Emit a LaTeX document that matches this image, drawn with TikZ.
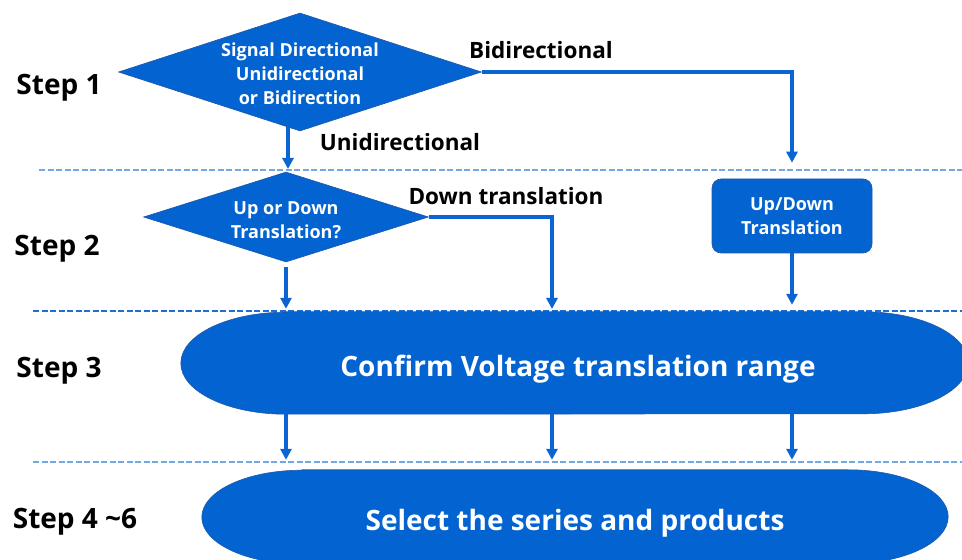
\documentclass[tikz,border=0pt]{standalone}
\usepackage{fontspec}
\setmainfont{Open Sans}
\usepackage{graphicx}
\usetikzlibrary{shapes.geometric,arrows.meta,calc}
\definecolor{fillblue}{HTML}{0364D1}
\definecolor{edgeblue}{HTML}{1F57A8}
\definecolor{arrowblue}{HTML}{0A64D2}
\definecolor{dashlight}{HTML}{74A8E4}
\definecolor{dashdark}{HTML}{1C6FD8}
\begin{document}
\begin{tikzpicture}[x=1pt,y=1pt,
  dia/.style={diamond, fill=fillblue, draw=edgeblue, line width=0.6pt, inner sep=0pt},
  rbox/.style={rectangle, rounded corners=9pt, fill=fillblue, draw=edgeblue, line width=0.6pt, inner sep=0pt,
    text=white, align=center, font=\bfseries\fontsize{18}{24}\selectfont},
  area/.style={rectangle, inner sep=0pt},
  stad/.style={fill=fillblue, draw=edgeblue, line width=0.6pt},
  wtxt/.style={text=white, font=\bfseries\fontsize{18}{24}\selectfont, align=center, inner sep=0pt},
  ltxt/.style={text=black, font=\bfseries\fontsize{22.5}{26}\selectfont, inner sep=0pt},
  steptxt/.style={text=black, font=\bfseries\fontsize{28}{32}\selectfont, inner sep=0pt},
  bigtxt/.style={text=white, font=\bfseries\fontsize{28}{32}\selectfont, inner sep=0pt},
  arr/.style={draw=arrowblue, line width=3.2pt, -{Triangle[width=11pt,length=11pt]}},
  sep/.style={dash pattern=on 6pt off 2.5pt, line width=1.5pt},
]
\useasboundingbox (0,0) rectangle (962,560);

% separators
\draw[sep, draw=dashlight] (39,390) -- (962,390);
\draw[sep, draw=dashdark] (33,249) -- (962,249);
\draw[sep, draw=dashlight] (33,98) -- (962,98);

% step labels
\node[steptxt] (st1) at (59,472) {Step 1};
\node[steptxt] (st2) at (57,311) {Step 2};
\node[steptxt] (st3) at (59,189) {Step 3};
\node[steptxt] (st4) at (75,38) {Step 4 \textasciitilde6};

% decisions
\node[dia, minimum width=363pt, minimum height=118pt] (d1) at (300,488) {};
\node[wtxt] (d1t) at (300,486) {Signal Directional\\Unidirectional\\or Bidirection};
\node[dia, minimum width=285pt, minimum height=90pt] (d2) at (286,343) {};
\node[wtxt] (d2t) at (286,340) {Up or Down\\Translation?};
\node[rbox, minimum width=160pt, minimum height=74pt] (b1) at (792,344) {Up/Down\\Translation};

% stadium 1
\node[area, minimum width=787pt, minimum height=102pt] (s1) at (574.5,197) {};
\path[stad] ([xshift=105pt]s1.north west) -- ([xshift=-105pt]s1.north east)
  arc[start angle=90, end angle=-90, x radius=105, y radius=51]
  -- ([xshift=105pt]s1.south west)
  arc[start angle=270, end angle=90, x radius=105, y radius=51] -- cycle;
\node[bigtxt] (s1t) at (578,191) {Confirm Voltage translation range};

% stadium 2
\node[area, minimum width=746pt, minimum height=94pt] (s2) at (575,43) {};
\path[stad] ([xshift=100pt]s2.north west) -- ([xshift=-100pt]s2.north east)
  arc[start angle=90, end angle=-90, x radius=100, y radius=47]
  -- ([xshift=100pt]s2.south west)
  arc[start angle=270, end angle=90, x radius=100, y radius=47] -- cycle;
\node[bigtxt] (s2t) at (575,37) {Select the series and products};

% branch labels
\node[ltxt] (lb) at (541,510) {Bidirectional};
\node[ltxt] (lu) at (400,418) {Unidirectional};
\node[ltxt] (ld) at (506,364) {Down translation};

% connectors
\coordinate (e1) at (288,391);
\coordinate (c5) at (552,248);
\draw[arr] ([yshift=4pt]d1.south -| e1) -- (e1);
\draw[arr, shorten >=16pt] (d1.east) -| (b1.north);
\draw[arr, shorten >=7pt] (b1.south) -- (b1.south |- s1.north);
\draw[arr, shorten >=3pt] ([yshift=-5pt]d2.south) -- (d2.south |- s1.north);
\draw[arr, shorten >=3pt] (d2.east) -| (c5);
\draw[arr, shorten >=10pt] (d2.south |- s1.south) -- (d2.south |- s2.north);
\draw[arr, shorten >=10pt] (c5 |- s1.south) -- (c5 |- s2.north);
\draw[arr, shorten >=10pt] (b1.south |- s1.south) -- (b1.south |- s2.north);
\end{tikzpicture}
\end{document}
